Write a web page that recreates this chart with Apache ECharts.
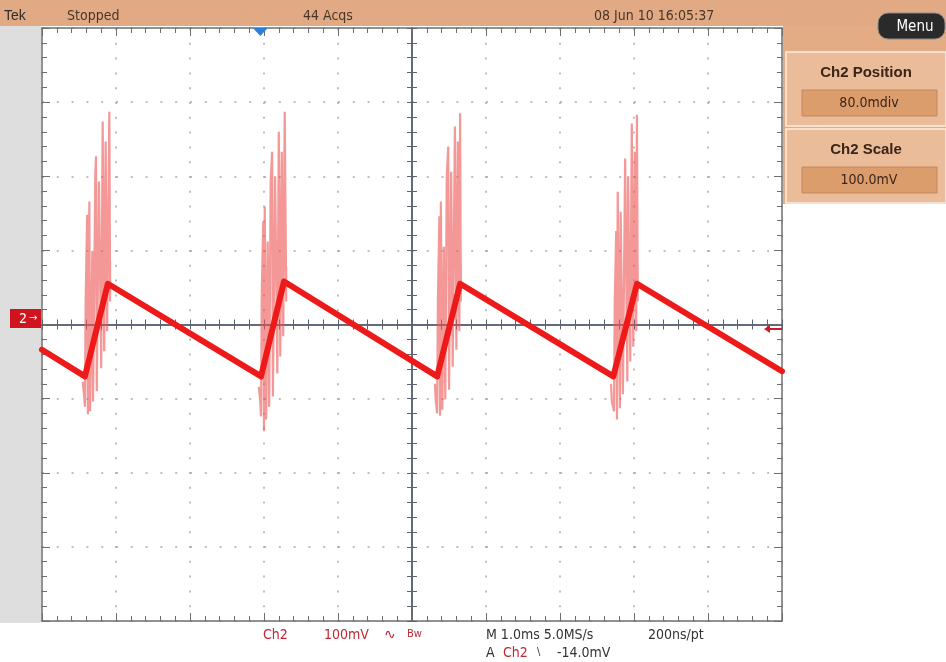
<!DOCTYPE html>
<html><head><meta charset="utf-8">
<script src="https://cdn.jsdelivr.net/npm/echarts@6/dist/echarts.min.js"></script>
<style>html,body{margin:0;padding:0;background:#fff}#c{width:946px;height:662px}</style>
</head><body><div id="c"></div>
<script>
// ---- data (time in ms relative to screen centre, voltage in screen mV, 100 mV/div) ----
const mainTrace = [[-5.0,-34],[-4.42,-70],[-4.11,55],[-2.04,-70],[-1.73,58],[0.34,-70],[0.65,55],[2.72,-70],[3.04,55],[5.0,-63]];
const burst1 = [[-4.45,-77],[-4.43,-97],[-4.42,-111],[-4.41,31],[-4.39,148],[-4.38,-121],[-4.36,166],[-4.35,-117],[-4.32,99],[-4.31,-104],[-4.28,200],[-4.27,227],[-4.26,-90],[-4.23,193],[-4.20,-59],[-4.18,274],[-4.16,-36],[-4.14,247],[-4.12,-9],[-4.09,287],[-4.08,31],[-4.08,85]];
const burst2 = [[-2.07,-84],[-2.05,-104],[-2.04,-124],[-2.03,45],[-2.01,139],[-2.00,-144],[-1.99,159],[-1.97,-128],[-1.95,112],[-1.93,-111],[-1.91,193],[-1.89,233],[-1.88,-97],[-1.85,200],[-1.82,-66],[-1.80,260],[-1.78,-43],[-1.76,233],[-1.74,-16],[-1.72,287],[-1.70,31],[-1.70,78]];
const burst3 = [[0.31,-80],[0.32,-101],[0.34,-120],[0.35,31],[0.37,146],[0.38,-123],[0.39,166],[0.41,-115],[0.43,105],[0.45,-101],[0.47,200],[0.49,240],[0.50,-88],[0.53,206],[0.55,-57],[0.58,267],[0.60,-34],[0.62,247],[0.64,-9],[0.65,285],[0.66,31],[0.66,82]];
const burst4 = [[2.69,-80],[2.70,-104],[2.73,-117],[2.74,31],[2.76,126],[2.77,-128],[2.78,179],[2.81,-113],[2.82,152],[2.85,-94],[2.88,224],[2.91,-77],[2.92,200],[2.95,-50],[2.97,271],[2.99,-30],[3.01,233],[3.03,-9],[3.04,283],[3.05,31],[3.05,78]];
const triggerPos = [-2.05, 400];
const triggerLevel = [5.0, -6];
const bursts = [burst1, burst2, burst3, burst4];

const FONT = "'Liberation Sans Narrow','DejaVu Sans Condensed','Liberation Sans',sans-serif";
const GRID = {left:42, top:28, width:740, height:593};
const frameCol = '#6e6e6e';
const dotLine = {show:true, lineStyle:{color:'#a9a9a9', width:1.5, type:[2,12.8]}};

function xAx(grid, pos, opts){
  return Object.assign({type:'value', gridIndex:grid, min:-5, max:5, interval:1, position:pos,
    axisLabel:{show:false}, splitLine:{show:false}}, opts);
}
function yAx(grid, pos, opts){
  return Object.assign({type:'value', gridIndex:grid, min:-400, max:400, interval:100, position:pos,
    axisLabel:{show:false}, splitLine:{show:false}}, opts);
}
const frameLine = {show:true, onZero:false, lineStyle:{color:frameCol, width:1.5}};
const crossLine = {show:true, onZero:true, lineStyle:{color:'#5b6272', width:1.5}};

const option = {
  animation:false,
  backgroundColor:'#ffffff',
  grid:[Object.assign({},GRID),Object.assign({},GRID),Object.assign({},GRID)],
  xAxis:[
    xAx(0,'bottom',{axisLine:frameLine, axisTick:{show:true,inside:true,length:8,lineStyle:{color:frameCol}}, minorTick:{show:true,splitNumber:5,length:5,lineStyle:{color:frameCol}}, splitLine:dotLine}),
    xAx(0,'top',{axisLine:frameLine, axisTick:{show:true,inside:true,length:8,lineStyle:{color:frameCol}}, minorTick:{show:true,splitNumber:5,length:5,lineStyle:{color:frameCol}}}),
    xAx(1,'bottom',{axisLine:crossLine, axisTick:{show:true,inside:true,length:5,lineStyle:{color:'#5b6272'}}, minorTick:{show:true,splitNumber:5,length:5,lineStyle:{color:'#5b6272'}}}),
    xAx(2,'bottom',{axisLine:crossLine, axisTick:{show:true,inside:false,length:5,lineStyle:{color:'#5b6272'}}, minorTick:{show:true,splitNumber:5,length:5,lineStyle:{color:'#5b6272'}}})
  ],
  yAxis:[
    yAx(0,'left',{axisLine:frameLine, axisTick:{show:true,inside:true,length:8,lineStyle:{color:frameCol}}, minorTick:{show:true,splitNumber:5,length:5,lineStyle:{color:frameCol}}, splitLine:dotLine}),
    yAx(0,'right',{axisLine:frameLine, axisTick:{show:true,inside:true,length:8,lineStyle:{color:frameCol}}, minorTick:{show:true,splitNumber:5,length:5,lineStyle:{color:frameCol}}}),
    yAx(1,'left',{axisLine:crossLine, axisTick:{show:true,inside:true,length:5,lineStyle:{color:'#5b6272'}}, minorTick:{show:true,splitNumber:5,length:5,lineStyle:{color:'#5b6272'}}}),
    yAx(2,'left',{axisLine:crossLine, axisTick:{show:true,inside:false,length:5,lineStyle:{color:'#5b6272'}}, minorTick:{show:true,splitNumber:5,length:5,lineStyle:{color:'#5b6272'}}})
  ],
  series: bursts.map((b,i)=>({
    type:'line', name:'ring'+i, xAxisIndex:0, yAxisIndex:0, data:b, symbol:'none', z:3,
    lineStyle:{color:'rgba(236,82,82,0.6)', width:2.2}
  })).concat([{
    type:'line', name:'Ch2', xAxisIndex:0, yAxisIndex:0, data:mainTrace, symbol:'none', z:4,
    lineStyle:{color:'#ee1a1a', width:6, join:'round', cap:'round'},
    markPoint:{
      silent:true, label:{show:false},
      data:[
        {coord:triggerPos, symbol:'triangle', symbolRotate:180, symbolSize:[15,8], symbolOffset:[0,4], itemStyle:{color:'#2f7fd8'}},
        {coord:triggerLevel, symbol:'path://M0,4 L6,0 L6,3 L18,3 L18,5 L6,5 L6,8 Z', symbolKeepAspect:false, symbolSize:[18,8], symbolOffset:[-9,0], itemStyle:{color:'#c81e28'}}
      ]
    }
  }]),
  graphic:[
    {type:'rect', z:-1, shape:{x:0,y:0,width:946,height:26}, style:{fill:'#e2aa84'}},
    {type:'rect', z:-1, shape:{x:0,y:26,width:41,height:597}, style:{fill:'#dedede'}},
    {type:'rect', z:-1, shape:{x:783,y:26,width:163,height:178}, style:{fill:'#e3ac85'}},
    {type:'rect', z:-1, shape:{x:786,y:52,width:160,height:74}, style:{fill:'#ebbc9a', stroke:'#fbeee4', lineWidth:1.5}},
    {type:'rect', z:-1, shape:{x:786,y:129,width:160,height:74}, style:{fill:'#ebbc9a', stroke:'#fbeee4', lineWidth:1.5}},
    {type:'rect', z:-1, shape:{x:802,y:90,width:135,height:26}, style:{fill:'#dc9d6d', stroke:'#c4865a', lineWidth:1}},
    {type:'rect', z:-1, shape:{x:802,y:167,width:135,height:26}, style:{fill:'#dc9d6d', stroke:'#c4865a', lineWidth:1}},
    {type:'text', x:866, y:73, style:{text:'Ch2 Position', font:"bold 15px 'Liberation Sans','DejaVu Sans',sans-serif", fill:'#3a2418', textAlign:'center', textVerticalAlign:'middle'}},
    {type:'text', x:869, y:103, style:{text:'80.0mdiv', font:'14px '+FONT, fill:'#3a2418', textAlign:'center', textVerticalAlign:'middle'}},
    {type:'text', x:866, y:150, style:{text:'Ch2 Scale', font:"bold 15px 'Liberation Sans','DejaVu Sans',sans-serif", fill:'#3a2418', textAlign:'center', textVerticalAlign:'middle'}},
    {type:'text', x:869, y:180, style:{text:'100.0mV', font:'14px '+FONT, fill:'#3a2418', textAlign:'center', textVerticalAlign:'middle'}},
    {type:'rect', shape:{x:878,y:13,width:67,height:26,r:10}, style:{fill:'#2a2a2a', stroke:'#8a8a8a', lineWidth:1}},
    {type:'text', x:915, y:27, style:{text:'Menu', font:'15px '+FONT, fill:'#ffffff', textAlign:'center', textVerticalAlign:'middle'}},
    {type:'text', x:4, y:16, style:{text:'Tek', font:"14px 'Liberation Sans',sans-serif", fill:'#2e2e2e', textVerticalAlign:'middle'}},
    {type:'text', x:67, y:16, style:{text:'Stopped', font:'14px '+FONT, fill:'#4a3628', textVerticalAlign:'middle'}},
    {type:'text', x:303, y:16, style:{text:'44 Acqs', font:'14px '+FONT, fill:'#4a3628', textVerticalAlign:'middle'}},
    {type:'text', x:594, y:16, style:{text:'08 Jun 10 16:05:37', font:'14px '+FONT, fill:'#4a3628', textVerticalAlign:'middle'}},
    {type:'rect', shape:{x:10,y:309,width:31,height:19}, style:{fill:'#d0141e'}},
    {type:'text', x:19, y:319, style:{text:'2', font:'14px '+FONT, fill:'#ffffff', textVerticalAlign:'middle'}},
    {type:'text', x:29, y:318, style:{text:'\u2192', font:"10px 'DejaVu Sans',sans-serif", fill:'#ffffff', textVerticalAlign:'middle'}},
    {type:'text', x:263, y:635, style:{text:'Ch2', font:'14px '+FONT, fill:'#c02834', textVerticalAlign:'middle'}},
    {type:'text', x:324, y:635, style:{text:'100mV', font:'14px '+FONT, fill:'#c02834', textVerticalAlign:'middle'}},
    {type:'text', x:384, y:635, style:{text:'\u223F', font:"14px 'DejaVu Sans',sans-serif", fill:'#c02834', textVerticalAlign:'middle'}},
    {type:'text', x:407, y:634, style:{text:'Bw', font:'11px '+FONT, fill:'#c02834', textVerticalAlign:'middle'}},
    {type:'text', x:486, y:635, style:{text:'M 1.0ms 5.0MS/s', font:'14px '+FONT, fill:'#333333', textVerticalAlign:'middle'}},
    {type:'text', x:648, y:635, style:{text:'200ns/pt', font:'14px '+FONT, fill:'#333333', textVerticalAlign:'middle'}},
    {type:'text', x:486, y:653, style:{text:'A', font:'14px '+FONT, fill:'#333333', textVerticalAlign:'middle'}},
    {type:'text', x:503, y:653, style:{text:'Ch2', font:'14px '+FONT, fill:'#c02834', textVerticalAlign:'middle'}},
    {type:'text', x:537, y:652, style:{text:'\\', font:'11px '+FONT, fill:'#333333', textVerticalAlign:'middle'}},
    {type:'text', x:557, y:653, style:{text:'-14.0mV', font:'14px '+FONT, fill:'#333333', textVerticalAlign:'middle'}}
  ]
};
const chart = echarts.init(document.getElementById('c'), null, {renderer:'canvas'});
chart.setOption(option);
</script></body></html>
